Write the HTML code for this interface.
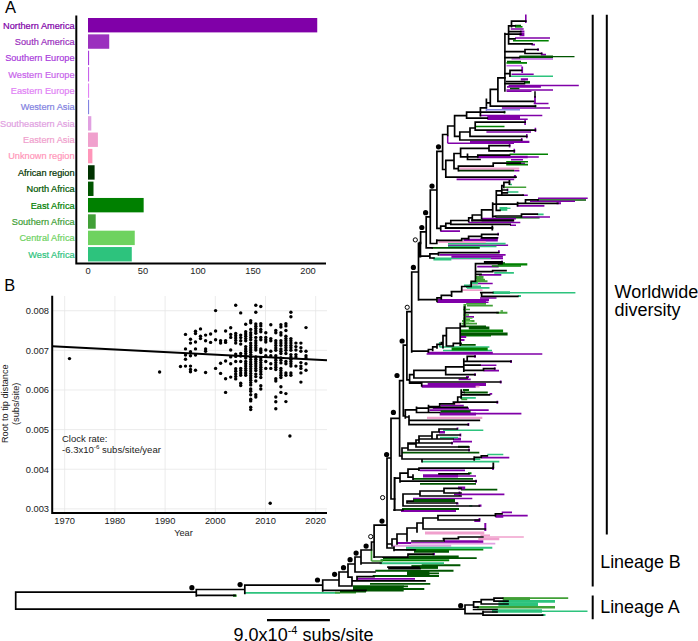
<!DOCTYPE html>
<html><head><meta charset="utf-8"><title>Figure</title>
<style>html,body{margin:0;padding:0;background:#fff}svg{display:block}text{font-family:"Liberation Sans",sans-serif}</style>
</head><body>
<svg width="698" height="641" viewBox="0 0 698 641">
<rect width="698" height="641" fill="#fff"/>
<text x="4.9" y="12.6" font-size="16.5" fill="#000">A</text>
<rect x="88.0" y="18.00" width="229.24" height="14.4" fill="#8000a8"/>
<text x="74.6" y="28.60" font-size="9.2" text-anchor="end" fill="#8000a8" stroke="#8000a8" stroke-width="0.2">Northern America</text>
<rect x="88.0" y="34.36" width="21.23" height="14.4" fill="#9b30be"/>
<text x="74.6" y="44.96" font-size="9.2" text-anchor="end" fill="#9b30be" stroke="#9b30be" stroke-width="0.2">South America</text>
<rect x="88.0" y="50.72" width="1.10" height="14.4" fill="#aa3cdc"/>
<text x="74.6" y="61.32" font-size="9.2" text-anchor="end" fill="#aa3cdc" stroke="#aa3cdc" stroke-width="0.2">Southern Europe</text>
<rect x="88.0" y="67.08" width="1.10" height="14.4" fill="#c864eb"/>
<text x="74.6" y="77.68" font-size="9.2" text-anchor="end" fill="#c864eb" stroke="#c864eb" stroke-width="0.2">Western Europe</text>
<rect x="88.0" y="83.44" width="1.10" height="14.4" fill="#e182f5"/>
<text x="74.6" y="94.04" font-size="9.2" text-anchor="end" fill="#e182f5" stroke="#e182f5" stroke-width="0.2">Eastern Europe</text>
<rect x="88.0" y="99.80" width="1.10" height="14.4" fill="#8282e1"/>
<text x="74.6" y="110.40" font-size="9.2" text-anchor="end" fill="#8282e1" stroke="#8282e1" stroke-width="0.2">Western Asia</text>
<rect x="88.0" y="116.16" width="3.30" height="14.4" fill="#e1a0e1"/>
<text x="74.6" y="126.76" font-size="9.2" text-anchor="end" fill="#e1a0e1" stroke="#e1a0e1" stroke-width="0.2">Southeastern Asia</text>
<rect x="88.0" y="132.52" width="9.90" height="14.4" fill="#f0a0cd"/>
<text x="74.6" y="143.12" font-size="9.2" text-anchor="end" fill="#f0a0cd" stroke="#f0a0cd" stroke-width="0.2">Eastern Asia</text>
<rect x="88.0" y="148.88" width="4.40" height="14.4" fill="#ff96b9"/>
<text x="74.6" y="159.48" font-size="9.2" text-anchor="end" fill="#ff96b9" stroke="#ff96b9" stroke-width="0.2">Unknown region</text>
<rect x="88.0" y="165.24" width="6.60" height="14.4" fill="#003200"/>
<text x="74.6" y="175.84" font-size="9.2" text-anchor="end" fill="#003200" stroke="#003200" stroke-width="0.2">African region</text>
<rect x="88.0" y="181.60" width="5.50" height="14.4" fill="#005500"/>
<text x="74.6" y="192.20" font-size="9.2" text-anchor="end" fill="#005500" stroke="#005500" stroke-width="0.2">North Africa</text>
<rect x="88.0" y="197.96" width="55.66" height="14.4" fill="#008000"/>
<text x="74.6" y="208.56" font-size="9.2" text-anchor="end" fill="#008000" stroke="#008000" stroke-width="0.2">East Africa</text>
<rect x="88.0" y="214.32" width="7.70" height="14.4" fill="#41a037"/>
<text x="74.6" y="224.92" font-size="9.2" text-anchor="end" fill="#41a037" stroke="#41a037" stroke-width="0.2">Southern Africa</text>
<rect x="88.0" y="230.68" width="46.75" height="14.4" fill="#6ed25f"/>
<text x="74.6" y="241.28" font-size="9.2" text-anchor="end" fill="#6ed25f" stroke="#6ed25f" stroke-width="0.2">Central Africa</text>
<rect x="88.0" y="247.04" width="43.78" height="14.4" fill="#2dc37d"/>
<text x="74.6" y="257.64" font-size="9.2" text-anchor="end" fill="#2dc37d" stroke="#2dc37d" stroke-width="0.2">West Africa</text>
<path d="M76.3 15.5V264.5M75.4 263.5H326" stroke="#000" stroke-width="2" fill="none"/>
<text x="88.0" y="274.2" font-size="9.3" text-anchor="middle" fill="#222">0</text>
<text x="143.0" y="274.2" font-size="9.3" text-anchor="middle" fill="#222">50</text>
<text x="198.0" y="274.2" font-size="9.3" text-anchor="middle" fill="#222">100</text>
<text x="253.0" y="274.2" font-size="9.3" text-anchor="middle" fill="#222">150</text>
<text x="308.0" y="274.2" font-size="9.3" text-anchor="middle" fill="#222">200</text>
<text x="4.2" y="291.2" font-size="16.4" fill="#000">B</text>
<path d="M64.7 296V512M114.9 296V512M165.1 296V512M215.3 296V512M265.5 296V512M315.7 296V512M53 508.87H327M53 469.24H327M53 429.61H327M53 389.98H327M53 350.35H327M53 310.72H327" stroke="#e6e6e6" stroke-width="0.8" fill="none"/>
<text x="64.7" y="524.3" font-size="9.3" text-anchor="middle" fill="#222">1970</text>
<text x="114.9" y="524.3" font-size="9.3" text-anchor="middle" fill="#222">1980</text>
<text x="165.1" y="524.3" font-size="9.3" text-anchor="middle" fill="#222">1990</text>
<text x="215.3" y="524.3" font-size="9.3" text-anchor="middle" fill="#222">2000</text>
<text x="265.5" y="524.3" font-size="9.3" text-anchor="middle" fill="#222">2010</text>
<text x="315.7" y="524.3" font-size="9.3" text-anchor="middle" fill="#222">2020</text>
<text x="49" y="512.17" font-size="9.3" text-anchor="end" fill="#222">0.003</text>
<text x="49" y="472.54" font-size="9.3" text-anchor="end" fill="#222">0.004</text>
<text x="49" y="432.91" font-size="9.3" text-anchor="end" fill="#222">0.005</text>
<text x="49" y="393.28" font-size="9.3" text-anchor="end" fill="#222">0.006</text>
<text x="49" y="353.65" font-size="9.3" text-anchor="end" fill="#222">0.007</text>
<text x="49" y="314.02" font-size="9.3" text-anchor="end" fill="#222">0.008</text>
<text x="183.5" y="536.2" font-size="9.2" text-anchor="middle" fill="#222">Year</text>
<text transform="translate(7.6 403.7) rotate(-90)" font-size="9.2" text-anchor="middle" fill="#222">Root to tip distance</text>
<text transform="translate(19 403.8) rotate(-90)" font-size="9.2" text-anchor="middle" fill="#222">(subs/site)</text>
<text x="62" y="442" font-size="9.5" fill="#222">Clock rate:</text>
<text x="62" y="452.8" font-size="9.55" fill="#222">-6.3x10<tspan font-size="6.2" dy="-3.4">-6</tspan><tspan dy="3.4"> subs/site/year</tspan></text>
<g fill="#000"><circle cx="180.5" cy="366.5" r="1.7"/><circle cx="185.5" cy="334.4" r="1.7"/><circle cx="185.5" cy="348.9" r="1.7"/><circle cx="185.5" cy="355.1" r="1.7"/><circle cx="185.5" cy="359.2" r="1.7"/><circle cx="185.5" cy="366.1" r="1.7"/><circle cx="190.5" cy="339.2" r="1.7"/><circle cx="190.5" cy="343.1" r="1.7"/><circle cx="190.5" cy="351.8" r="1.7"/><circle cx="190.5" cy="355.7" r="1.7"/><circle cx="190.5" cy="366.1" r="1.7"/><circle cx="190.5" cy="369.5" r="1.7"/><circle cx="190.5" cy="371.8" r="1.7"/><circle cx="195.5" cy="331.2" r="1.7"/><circle cx="195.5" cy="333.5" r="1.7"/><circle cx="195.5" cy="342.0" r="1.7"/><circle cx="195.5" cy="348.9" r="1.7"/><circle cx="195.5" cy="355.1" r="1.7"/><circle cx="195.5" cy="370.2" r="1.7"/><circle cx="200.5" cy="328.9" r="1.7"/><circle cx="200.5" cy="336.3" r="1.7"/><circle cx="200.5" cy="338.6" r="1.7"/><circle cx="205.6" cy="335.1" r="1.7"/><circle cx="205.6" cy="340.8" r="1.7"/><circle cx="205.6" cy="348.9" r="1.7"/><circle cx="205.6" cy="351.2" r="1.7"/><circle cx="205.6" cy="372.5" r="1.7"/><circle cx="210.6" cy="334.0" r="1.7"/><circle cx="210.6" cy="342.4" r="1.7"/><circle cx="215.6" cy="310.6" r="1.7"/><circle cx="215.6" cy="331.0" r="1.7"/><circle cx="215.6" cy="339.7" r="1.7"/><circle cx="215.6" cy="368.4" r="1.7"/><circle cx="220.6" cy="340.8" r="1.7"/><circle cx="220.6" cy="343.1" r="1.7"/><circle cx="220.6" cy="363.3" r="1.7"/><circle cx="220.6" cy="373.4" r="1.7"/><circle cx="225.6" cy="331.0" r="1.7"/><circle cx="225.6" cy="340.8" r="1.7"/><circle cx="225.6" cy="342.4" r="1.7"/><circle cx="225.6" cy="361.0" r="1.7"/><circle cx="225.6" cy="378.7" r="1.7"/><circle cx="225.6" cy="392.4" r="1.7"/><circle cx="230.7" cy="327.8" r="1.7"/><circle cx="230.7" cy="334.4" r="1.7"/><circle cx="230.7" cy="337.4" r="1.7"/><circle cx="230.7" cy="350.0" r="1.7"/><circle cx="230.7" cy="356.9" r="1.7"/><circle cx="230.7" cy="363.8" r="1.7"/><circle cx="230.7" cy="377.1" r="1.7"/><circle cx="235.7" cy="305.3" r="1.7"/><circle cx="235.7" cy="333.5" r="1.7"/><circle cx="235.7" cy="335.8" r="1.7"/><circle cx="235.7" cy="338.1" r="1.7"/><circle cx="235.7" cy="340.4" r="1.7"/><circle cx="235.7" cy="343.1" r="1.7"/><circle cx="235.7" cy="354.1" r="1.7"/><circle cx="235.7" cy="356.4" r="1.7"/><circle cx="235.7" cy="361.5" r="1.7"/><circle cx="235.7" cy="368.8" r="1.7"/><circle cx="235.7" cy="371.3" r="1.7"/><circle cx="235.7" cy="373.9" r="1.7"/><circle cx="235.7" cy="376.4" r="1.7"/><circle cx="235.7" cy="378.9" r="1.7"/><circle cx="240.7" cy="312.9" r="1.7"/><circle cx="240.7" cy="335.1" r="1.7"/><circle cx="240.7" cy="337.6" r="1.7"/><circle cx="240.7" cy="340.8" r="1.7"/><circle cx="240.7" cy="344.1" r="1.7"/><circle cx="240.7" cy="353.5" r="1.7"/><circle cx="240.7" cy="356.0" r="1.7"/><circle cx="240.7" cy="361.5" r="1.7"/><circle cx="240.7" cy="368.4" r="1.7"/><circle cx="240.7" cy="370.6" r="1.7"/><circle cx="240.7" cy="372.9" r="1.7"/><circle cx="240.7" cy="375.2" r="1.7"/><circle cx="240.7" cy="383.3" r="1.7"/><circle cx="240.7" cy="385.5" r="1.7"/><circle cx="245.7" cy="324.3" r="1.7"/><circle cx="245.7" cy="331.7" r="1.7"/><circle cx="245.7" cy="334.0" r="1.7"/><circle cx="245.7" cy="336.3" r="1.7"/><circle cx="245.7" cy="338.6" r="1.7"/><circle cx="245.7" cy="340.8" r="1.7"/><circle cx="245.7" cy="346.6" r="1.7"/><circle cx="245.7" cy="348.9" r="1.7"/><circle cx="245.7" cy="351.2" r="1.7"/><circle cx="245.7" cy="353.5" r="1.7"/><circle cx="245.7" cy="355.7" r="1.7"/><circle cx="245.7" cy="358.0" r="1.7"/><circle cx="245.7" cy="361.5" r="1.7"/><circle cx="245.7" cy="363.8" r="1.7"/><circle cx="245.7" cy="366.1" r="1.7"/><circle cx="245.7" cy="368.4" r="1.7"/><circle cx="245.7" cy="370.6" r="1.7"/><circle cx="245.7" cy="372.9" r="1.7"/><circle cx="245.7" cy="375.2" r="1.7"/><circle cx="250.7" cy="320.7" r="1.7"/><circle cx="250.7" cy="322.7" r="1.7"/><circle cx="250.7" cy="329.4" r="1.7"/><circle cx="250.7" cy="332.8" r="1.7"/><circle cx="250.7" cy="335.1" r="1.7"/><circle cx="250.7" cy="337.4" r="1.7"/><circle cx="250.7" cy="339.7" r="1.7"/><circle cx="250.7" cy="343.1" r="1.7"/><circle cx="250.7" cy="345.4" r="1.7"/><circle cx="250.7" cy="347.7" r="1.7"/><circle cx="250.7" cy="350.0" r="1.7"/><circle cx="250.7" cy="352.3" r="1.7"/><circle cx="250.7" cy="354.6" r="1.7"/><circle cx="250.7" cy="357.3" r="1.7"/><circle cx="250.7" cy="359.6" r="1.7"/><circle cx="250.7" cy="361.9" r="1.7"/><circle cx="250.7" cy="364.2" r="1.7"/><circle cx="250.7" cy="366.5" r="1.7"/><circle cx="250.7" cy="368.8" r="1.7"/><circle cx="250.7" cy="371.1" r="1.7"/><circle cx="250.7" cy="373.4" r="1.7"/><circle cx="250.7" cy="375.7" r="1.7"/><circle cx="250.7" cy="378.0" r="1.7"/><circle cx="250.7" cy="380.3" r="1.7"/><circle cx="250.7" cy="382.6" r="1.7"/><circle cx="250.7" cy="384.9" r="1.7"/><circle cx="250.7" cy="389.0" r="1.7"/><circle cx="250.7" cy="391.3" r="1.7"/><circle cx="250.7" cy="394.7" r="1.7"/><circle cx="250.7" cy="399.3" r="1.7"/><circle cx="250.7" cy="400.9" r="1.7"/><circle cx="250.7" cy="407.3" r="1.7"/><circle cx="250.7" cy="409.6" r="1.7"/><circle cx="255.8" cy="305.3" r="1.7"/><circle cx="255.8" cy="312.2" r="1.7"/><circle cx="255.8" cy="323.9" r="1.7"/><circle cx="255.8" cy="326.2" r="1.7"/><circle cx="255.8" cy="328.5" r="1.7"/><circle cx="255.8" cy="331.0" r="1.7"/><circle cx="255.8" cy="333.3" r="1.7"/><circle cx="255.8" cy="337.4" r="1.7"/><circle cx="255.8" cy="340.8" r="1.7"/><circle cx="255.8" cy="343.1" r="1.7"/><circle cx="255.8" cy="345.4" r="1.7"/><circle cx="255.8" cy="347.7" r="1.7"/><circle cx="255.8" cy="350.0" r="1.7"/><circle cx="255.8" cy="356.9" r="1.7"/><circle cx="255.8" cy="359.2" r="1.7"/><circle cx="255.8" cy="361.5" r="1.7"/><circle cx="255.8" cy="363.8" r="1.7"/><circle cx="255.8" cy="366.1" r="1.7"/><circle cx="255.8" cy="368.4" r="1.7"/><circle cx="255.8" cy="370.6" r="1.7"/><circle cx="255.8" cy="374.1" r="1.7"/><circle cx="255.8" cy="376.6" r="1.7"/><circle cx="255.8" cy="381.0" r="1.7"/><circle cx="255.8" cy="394.7" r="1.7"/><circle cx="255.8" cy="397.0" r="1.7"/><circle cx="260.8" cy="306.5" r="1.7"/><circle cx="260.8" cy="323.7" r="1.7"/><circle cx="260.8" cy="325.9" r="1.7"/><circle cx="260.8" cy="329.4" r="1.7"/><circle cx="260.8" cy="331.7" r="1.7"/><circle cx="260.8" cy="337.4" r="1.7"/><circle cx="260.8" cy="339.7" r="1.7"/><circle cx="260.8" cy="348.9" r="1.7"/><circle cx="260.8" cy="350.7" r="1.7"/><circle cx="260.8" cy="352.5" r="1.7"/><circle cx="260.8" cy="358.0" r="1.7"/><circle cx="260.8" cy="360.3" r="1.7"/><circle cx="260.8" cy="362.6" r="1.7"/><circle cx="260.8" cy="364.9" r="1.7"/><circle cx="260.8" cy="367.2" r="1.7"/><circle cx="260.8" cy="369.5" r="1.7"/><circle cx="260.8" cy="371.8" r="1.7"/><circle cx="260.8" cy="374.3" r="1.7"/><circle cx="260.8" cy="377.5" r="1.7"/><circle cx="260.8" cy="385.8" r="1.7"/><circle cx="260.8" cy="389.0" r="1.7"/><circle cx="265.8" cy="332.8" r="1.7"/><circle cx="265.8" cy="337.4" r="1.7"/><circle cx="265.8" cy="339.7" r="1.7"/><circle cx="265.8" cy="342.0" r="1.7"/><circle cx="265.8" cy="350.0" r="1.7"/><circle cx="265.8" cy="355.7" r="1.7"/><circle cx="265.8" cy="361.5" r="1.7"/><circle cx="265.8" cy="368.4" r="1.7"/><circle cx="270.8" cy="324.8" r="1.7"/><circle cx="270.8" cy="338.6" r="1.7"/><circle cx="270.8" cy="340.8" r="1.7"/><circle cx="270.8" cy="351.2" r="1.7"/><circle cx="270.8" cy="355.7" r="1.7"/><circle cx="270.8" cy="363.8" r="1.7"/><circle cx="270.8" cy="368.4" r="1.7"/><circle cx="275.8" cy="330.5" r="1.7"/><circle cx="275.8" cy="332.8" r="1.7"/><circle cx="275.8" cy="340.8" r="1.7"/><circle cx="275.8" cy="343.1" r="1.7"/><circle cx="275.8" cy="345.4" r="1.7"/><circle cx="275.8" cy="348.0" r="1.7"/><circle cx="275.8" cy="350.2" r="1.7"/><circle cx="275.8" cy="355.7" r="1.7"/><circle cx="275.8" cy="358.0" r="1.7"/><circle cx="275.8" cy="360.3" r="1.7"/><circle cx="275.8" cy="362.6" r="1.7"/><circle cx="275.8" cy="364.9" r="1.7"/><circle cx="275.8" cy="367.2" r="1.7"/><circle cx="275.8" cy="369.5" r="1.7"/><circle cx="275.8" cy="378.7" r="1.7"/><circle cx="275.8" cy="381.0" r="1.7"/><circle cx="275.8" cy="397.0" r="1.7"/><circle cx="275.8" cy="401.8" r="1.7"/><circle cx="275.8" cy="408.7" r="1.7"/><circle cx="280.9" cy="324.8" r="1.7"/><circle cx="280.9" cy="327.1" r="1.7"/><circle cx="280.9" cy="332.8" r="1.7"/><circle cx="280.9" cy="335.1" r="1.7"/><circle cx="280.9" cy="340.8" r="1.7"/><circle cx="280.9" cy="343.1" r="1.7"/><circle cx="280.9" cy="345.4" r="1.7"/><circle cx="280.9" cy="348.9" r="1.7"/><circle cx="280.9" cy="351.2" r="1.7"/><circle cx="280.9" cy="353.5" r="1.7"/><circle cx="280.9" cy="358.0" r="1.7"/><circle cx="280.9" cy="360.3" r="1.7"/><circle cx="280.9" cy="362.9" r="1.7"/><circle cx="280.9" cy="368.4" r="1.7"/><circle cx="280.9" cy="370.6" r="1.7"/><circle cx="280.9" cy="372.9" r="1.7"/><circle cx="280.9" cy="375.2" r="1.7"/><circle cx="280.9" cy="377.5" r="1.7"/><circle cx="280.9" cy="386.7" r="1.7"/><circle cx="280.9" cy="392.4" r="1.7"/><circle cx="285.9" cy="323.7" r="1.7"/><circle cx="285.9" cy="325.9" r="1.7"/><circle cx="285.9" cy="330.5" r="1.7"/><circle cx="285.9" cy="336.3" r="1.7"/><circle cx="285.9" cy="338.6" r="1.7"/><circle cx="285.9" cy="340.8" r="1.7"/><circle cx="285.9" cy="343.1" r="1.7"/><circle cx="285.9" cy="345.4" r="1.7"/><circle cx="285.9" cy="347.7" r="1.7"/><circle cx="285.9" cy="350.2" r="1.7"/><circle cx="285.9" cy="353.5" r="1.7"/><circle cx="285.9" cy="361.5" r="1.7"/><circle cx="285.9" cy="363.8" r="1.7"/><circle cx="285.9" cy="372.9" r="1.7"/><circle cx="285.9" cy="375.2" r="1.7"/><circle cx="285.9" cy="393.6" r="1.7"/><circle cx="285.9" cy="401.6" r="1.7"/><circle cx="290.9" cy="312.2" r="1.7"/><circle cx="290.9" cy="316.8" r="1.7"/><circle cx="290.9" cy="338.6" r="1.7"/><circle cx="290.9" cy="340.8" r="1.7"/><circle cx="290.9" cy="343.1" r="1.7"/><circle cx="290.9" cy="345.4" r="1.7"/><circle cx="290.9" cy="347.7" r="1.7"/><circle cx="290.9" cy="350.2" r="1.7"/><circle cx="290.9" cy="354.6" r="1.7"/><circle cx="290.9" cy="356.9" r="1.7"/><circle cx="290.9" cy="359.2" r="1.7"/><circle cx="290.9" cy="361.5" r="1.7"/><circle cx="290.9" cy="363.8" r="1.7"/><circle cx="290.9" cy="366.1" r="1.7"/><circle cx="290.9" cy="372.9" r="1.7"/><circle cx="290.9" cy="375.2" r="1.7"/><circle cx="295.9" cy="343.1" r="1.7"/><circle cx="295.9" cy="346.6" r="1.7"/><circle cx="295.9" cy="350.0" r="1.7"/><circle cx="295.9" cy="354.6" r="1.7"/><circle cx="295.9" cy="356.9" r="1.7"/><circle cx="295.9" cy="366.1" r="1.7"/><circle cx="300.9" cy="343.1" r="1.7"/><circle cx="300.9" cy="347.7" r="1.7"/><circle cx="300.9" cy="351.2" r="1.7"/><circle cx="300.9" cy="362.6" r="1.7"/><circle cx="300.9" cy="366.1" r="1.7"/><circle cx="300.9" cy="368.4" r="1.7"/><circle cx="300.9" cy="372.9" r="1.7"/><circle cx="300.9" cy="382.1" r="1.7"/><circle cx="306.0" cy="327.6" r="1.7"/><circle cx="306.0" cy="351.2" r="1.7"/><circle cx="306.0" cy="355.7" r="1.7"/><circle cx="306.0" cy="358.0" r="1.7"/><circle cx="306.0" cy="363.8" r="1.7"/><circle cx="306.0" cy="370.2" r="1.7"/><circle cx="69.5" cy="358.6" r="1.7"/><circle cx="159.6" cy="372.0" r="1.7"/><circle cx="289.9" cy="436.0" r="1.7"/><circle cx="270.2" cy="503.2" r="1.7"/></g>
<path d="M52 346.3L327 360.3" stroke="#000" stroke-width="2" fill="none"/>
<path d="M52.2 295.7V514M51.2 513H327" stroke="#000" stroke-width="2" fill="none"/>
<path d="M592.7 14.8V586.6M606.8 14.8V534.4M592.7 595.5V619.2" stroke="#000" stroke-width="2" fill="none"/>
<text x="614.5" y="297.6" font-size="18" fill="#000">Worldwide</text>
<text x="614.5" y="315.5" font-size="18" fill="#000">diversity</text>
<text x="600.2" y="568" font-size="17.9" fill="#000">Lineage B</text>
<text x="600.2" y="613" font-size="17.9" fill="#000">Lineage A</text>
<path d="M267 620.2H329.9" stroke="#000" stroke-width="2.3" fill="none"/>
<text x="233.6" y="640.7" font-size="18" fill="#000">9.0x10<tspan font-size="11" dy="-6.6">-4</tspan><tspan dy="6.6"> subs/site</tspan></text>
<path d="M525.8 14.4V23M515 38H550M538 48.3V51M541.6 52.3V55M511.5 74.3H533.7M507 86.9H540.9M506.5 90H553M501.9 108H550M525.1 120V125M535.4 127.8V132M486.4 132H531M526.8 134V138.3M521.7 138V142M447.7 143.3H514M509.6 143.5V147.5M514.3 148.7V153M511 159.8H523M510.3 163.4H525M514.2 170.7H519.4M507.5 188.5V191.5M522 195.2H527.8M538 198.3H587.7M498.1 232.8V235.5M496 237.8H498.5M481 238.6H498M448 245.3H508.1M502 260.6V263M477.2 266.6H498.7M477.2 283.5H492.7M480 365.2H496.4M476 413.6H521.4M510 225.2H516" stroke="#8000a8" stroke-width="1.6" fill="none"/>
<path d="M515 25.7H521M537 200H586M495.5 217.7H539.6M460.5 344.8H475.7M461 489.7H497.3" stroke="#005500" stroke-width="1.7" fill="none"/>
<path d="M515 26.8H522.5" stroke="#008000" stroke-width="1.7" fill="none"/>
<path d="M510.8 29H523.7M531.5 44.6H535M541 54.6H546M456.6 179.3H514.2M516.8 205.8H544.4M481.6 218.6H516M439.4 254.8H505.6M479 274.8H501.3M465.3 316.8H474M427.5 352.6H492.8M426.6 354H542.3M475 355V357.8M494.7 367.3V370M475 373.2V376M429.4 410.2H488.7M453 441.7H472M481.3 457.7H509.3M420 470.3H465M454 494.4H504.4M413 498.5H472.3M501.7 512.3H512M495.4 515.6H527.7M468.4 222.5H520.3M440.2 231.2H460" stroke="#8000a8" stroke-width="1.7" fill="none"/>
<path d="M520 31.6H524.4M556.5 203.2H561M480 239.4H496.5M461 340H464.5M456 503.6H458.5M485.3 523V531M432.5 554H435M432.5 556.6H434.5" stroke="#8000a8" stroke-width="2.0" fill="none"/>
<path d="M519.5 34.5H524.4" stroke="#8000a8" stroke-width="3.5" fill="none"/>
<path d="M513 40.7H548.7M535.4 104.8V107.5M504.5 110.8V113.6M506.2 161.7H528M506.2 164.6H528M461 335.8H491" stroke="#008000" stroke-width="1.6" fill="none"/>
<path d="M519.4 56.7H574.5" stroke="#005500" stroke-width="1.3" fill="none"/>
<path d="M519.4 56.9H553M440.5 411.7H470.6M413 500.5H455" stroke="#005500" stroke-width="2.8" fill="none"/>
<path d="M511.5 59H553" stroke="#c864eb" stroke-width="1.5" fill="none"/>
<path d="M507 61.4H521M510 88.6H519.4" stroke="#005500" stroke-width="1.5" fill="none"/>
<path d="M506.5 62.9H527" stroke="#008000" stroke-width="1.8" fill="none"/>
<path d="M506.5 65.7H522" stroke="#c864eb" stroke-width="1.6" fill="none"/>
<path d="M522.2 66.5V73M535 96V103M498.9 250.2V253M511 360V363M483.5 370.6H499M458.6 379.4H470.7M466 377H469M500.7 380.5V383.5M489.5 393.8H492.2M497.3 400.7V403.7M440.5 405.7H463.8M468.4 423V426M457.5 427.5V430.5M460.4 433.5V436.5M452 441.8V444.6M469 448.5V451.5M493 466.5V470M476 479.8V482.8M459.5 491.5V496M401 511H456M495.4 516.8H503.3M479.5 518V520M444 541.2H483.3M397 543H483.3M357 578.8H415" stroke="#8000a8" stroke-width="1.8" fill="none"/>
<path d="M510.8 76.2H553M509.4 184.5H512M448 246.6H496.5M433.4 259.7H451.4M542 611.3H587.5" stroke="#2dc37d" stroke-width="1.5" fill="none"/>
<path d="M520.8 79.3H528M470 141.8H529.4M515 175V178.3M481.6 220.4H513.6M480 299.8H489M478.5 505.6H481.5" stroke="#8000a8" stroke-width="2.2" fill="none"/>
<path d="M524 82.3H530" stroke="#005500" stroke-width="2.6" fill="none"/>
<path d="M508.6 85.5H578.8M506.5 91.3H531.5M533.7 103.5H548.5M479.8 115.6H542.3M487.3 119.2H527.7M447.7 135.5V143.3M522.3 216.9H550M480 298H496.5M437 302.2H488.5M432.8 408.2H469M458 476H476" stroke="#8000a8" stroke-width="1.5" fill="none"/>
<path d="M487 109.8H520M486.4 106V111" stroke="#8282e1" stroke-width="1.5" fill="none"/>
<path d="M487.3 117.4H520M427.7 384.5H486M421.7 386.3H475.8" stroke="#8000a8" stroke-width="3.0" fill="none"/>
<path d="M475.2 126.5H504.5M509.6 154.3H548M491.8 265.9H521" stroke="#008000" stroke-width="1.5" fill="none"/>
<path d="M477 157H527.7M461 336.8H466.2M439 432.2H445M474.3 520.6H480.3" stroke="#8000a8" stroke-width="2.6" fill="none"/>
<path d="M527 157H538.8M530 201.2H575M451.4 258.5H503" stroke="#8000a8" stroke-width="1.4" fill="none"/>
<path d="M460 168.7H519.3" stroke="#f0a0cd" stroke-width="2.2" fill="none"/>
<path d="M458.4 170.7H514.2" stroke="#003200" stroke-width="1.8" fill="none"/>
<path d="M504.8 187.3H526.2M500.5 311H503" stroke="#41a037" stroke-width="1.5" fill="none"/>
<path d="M507.3 192H518.4M448 243.6H505.6M432.5 258.2H491M467 287.9H489.5M492.6 292.8H575.4M439.7 342V347M443 350.5H492M443 430.2H483.3M244.8 592.9H340" stroke="#2dc37d" stroke-width="1.6" fill="none"/>
<path d="M499.5 208.9H507.3" stroke="#2dc37d" stroke-width="3.8" fill="none"/>
<path d="M507 208.3H510.5" stroke="#2dc37d" stroke-width="1.3" fill="none"/>
<path d="M537.3 214.3H543.6M460.3 397.9H475.8M469.3 505.8H472.3" stroke="#2dc37d" stroke-width="1.8" fill="none"/>
<path d="M463.5 240.2H497.8M453 439.2H461M458 488H465.2" stroke="#8000a8" stroke-width="2.8" fill="none"/>
<path d="M438.5 241.9H485.8" stroke="#f0a0cd" stroke-width="2.0" fill="none"/>
<path d="M431.6 247.9H479.8M461 326.4H486M462.9 390H469M402 452.7H479.3M403 589H424.3M403 586.3H408" stroke="#005500" stroke-width="1.8" fill="none"/>
<path d="M451.4 256.6H502.9" stroke="#8000a8" stroke-width="2.4" fill="none"/>
<path d="M501 263.2H505M463.8 392.4H487.8M458 446.8H469" stroke="#005500" stroke-width="2.0" fill="none"/>
<path d="M497.8 264.4H527.3M233 595.6H236.6" stroke="#008000" stroke-width="2.4" fill="none"/>
<path d="M494.2 272.9H513.9M439.5 347H489.4M440 437.7H458M487.3 454.5H503.3M473.2 459.2H480.3M422 461.7H499.3" stroke="#2dc37d" stroke-width="1.7" fill="none"/>
<path d="M476.3 279.6H481" stroke="#41a037" stroke-width="5.0" fill="none"/>
<path d="M480 280H485" stroke="#41a037" stroke-width="2.5" fill="none"/>
<path d="M469 284.8H477.5" stroke="#f0a0cd" stroke-width="1.6" fill="none"/>
<path d="M464 285.6H471.2M470 283H478" stroke="#2dc37d" stroke-width="2.4" fill="none"/>
<path d="M461.7 290.2H482.5M475.8 386.6H479.5M453.4 403.5H460.3" stroke="#f0a0cd" stroke-width="1.8" fill="none"/>
<path d="M492.6 292.6H510M502.7 601.3H555" stroke="#2dc37d" stroke-width="2.8" fill="none"/>
<path d="M517.8 296H521M541.5 615H545.5" stroke="#2dc37d" stroke-width="2.2" fill="none"/>
<path d="M437.8 300.6H486M439.7 414H476M423 475.8H458" stroke="#8000a8" stroke-width="3.2" fill="none"/>
<path d="M464.8 304V308M466.2 303.9H486M335 592.6H356M502.7 598.2H568.2M462 321H474.5M461.5 323.6H477" stroke="#41a037" stroke-width="1.8" fill="none"/>
<path d="M467 305.6H492.8M463.5 319.5H470M463 323.3H469M461.2 399.4H467.2M463 309.5H470M463.5 315H469" stroke="#41a037" stroke-width="1.6" fill="none"/>
<path d="M496.3 312.8H507.4M476 281.2H487.5" stroke="#41a037" stroke-width="2.0" fill="none"/>
<path d="M464 321.5H471.5M463 318.3H472.5" stroke="#6ed25f" stroke-width="1.6" fill="none"/>
<path d="M468.8 328.1H489.4M460.2 334H507.6M414 551.3H449" stroke="#005500" stroke-width="3.0" fill="none"/>
<path d="M461 331.1H503.1" stroke="#008000" stroke-width="3.0" fill="none"/>
<path d="M451.6 349H487.7" stroke="#008000" stroke-width="2.8" fill="none"/>
<path d="M427 417.9H482.3M478.3 539H499.3" stroke="#f0a0cd" stroke-width="2.4" fill="none"/>
<path d="M468 473.2H471.5M406 549.5H483.3M380.5 560.2H449.2" stroke="#008000" stroke-width="2.0" fill="none"/>
<path d="M413 478.9H473M420 483.9H476M402 509H459M408.8 556.4H458.7M383 558.1H476.7M421.7 565.3H460.4M375.3 570.8H453.5M372.7 576H439M370 583.9H430.3" stroke="#005500" stroke-width="1.9" fill="none"/>
<path d="M425 533H484.3" stroke="#f0a0cd" stroke-width="3.0" fill="none"/>
<path d="M480.5 535.4H490" stroke="#f0a0cd" stroke-width="1.9" fill="none"/>
<path d="M482.8 537H523.8" stroke="#f0a0cd" stroke-width="1.7" fill="none"/>
<path d="M411 543.6H495.3" stroke="#e1a0e1" stroke-width="1.8" fill="none"/>
<path d="M392 545.8H451.2" stroke="#e1a0e1" stroke-width="1.9" fill="none"/>
<path d="M371.5 549V561M371.5 561H383" stroke="#41a037" stroke-width="1.7" fill="none"/>
<path d="M340 591.8H366M429 573.4H439" stroke="#005500" stroke-width="1.6" fill="none"/>
<path d="M502.7 598.6H530M464.8 304V325.5" stroke="#41a037" stroke-width="2.6" fill="none"/>
<path d="M498.4 604.2H538" stroke="#2dc37d" stroke-width="4.0" fill="none"/>
<path d="M476.9 607.3H555" stroke="#41a037" stroke-width="2.4" fill="none"/>
<path d="M492 611H542" stroke="#2dc37d" stroke-width="3.4" fill="none"/>
<path d="M466 286.8H481" stroke="#2dc37d" stroke-width="2.6" fill="none"/>
<path d="M476 277.4H483.5" stroke="#41a037" stroke-width="3.0" fill="none"/>
<path d="M406 547.8H492.3" stroke="#2dc37d" stroke-width="1.9" fill="none"/>
<path d="M379.6 563.3H444" stroke="#2dc37d" stroke-width="2.0" fill="none"/>
<path d="M411.4 567H438" stroke="#005500" stroke-width="3.8" fill="none"/>
<path d="M407 573H429.5" stroke="#005500" stroke-width="4.6" fill="none"/>
<path d="M353 588.4H403.7" stroke="#005500" stroke-width="6.4" fill="none"/>
<path d="M511.5 21.2H525.8M511.5 21.2V26.6M508.6 25.9H515M508.6 25.9V43.8M508.6 31.6H520.8M505.5 34.2H520.8M508.6 38.8H515M508.6 43.8H532M525 49.5H538M525 49.5V53.5M505 51.7H525M525 53.5H541.6M505 57.6H519.4M510.8 70.3H521.5M510 70.3V76.2M505 73.6H510M506.5 81.5H524.4M505 83.6H524.4M497.9 77.9H504.9M497.9 77.9V101.5M497.9 101.3H533.5M490.4 89.4H497.9M490.3 89.4V106.2M490.3 106.2H535.4M486.4 99.3V106M486.4 102.8H490.3M480.4 107.9H486.4M480.4 107.9V115.6M480.4 112.2H504.5M466.6 112.2H480.4M466.6 112.2V118.2M466.6 118.2H487.3M454.6 115.6H466.6M454.6 115.6V136.3M475.2 122.2H525.1M475.2 122.2V130.2M475.2 130.2H535.4M470 128H475.2M470 128V136.3M459.8 132H470M459.8 132V140M454.6 136.3H459.8M470 136.3H526.8M459.8 140H521.7M447.7 126V135.5M447.7 126H454.6M442.6 134.5H447.7M442.6 134.5V169.5M489 145.7H509.6M489 145.7V150.9M460.6 148.3H489M489 150.9H514.3M460.6 148.3V156.9M477.8 155.2H509.6M467.5 156.9H477.8M467.5 154.3V159.5M460.6 156.9H467.5M467.5 159.5H480M454 153.5H460.6M445.8 160.3H454M436.9 151.3H442.6M436.9 151.3V228.4M442.6 169.5H445.8M445.8 160.3V177.2M454 153.5V168.6M454 168.6H458.4M493.2 163.2H520.3M493.2 163.2V166.2M458.4 166.2H493.2M458.4 166.2V170.7M445.8 177.2H516M503.9 182.3H509.4M503.9 182.3V187.5M501.8 185.7H503.9M501.8 185.7V193.5M501.8 190H507.3M501.8 192.8H507.3M496.3 190.8H501.8M496.3 190.8V210.5M496.3 195.2H523.1M525.5 199.9H538M525.5 199.9V203.4M517.6 203.4H557.8M517.6 202.6V205.7M492.7 204.2H517.6M496.3 210.3H500M492.7 203V216.8M481.6 209.9H492.7M481.6 209.9V218.5M521.5 214.1H537.3M521.5 214.1V216.3M495.5 216H521.5M492.7 216.4H495.5M481.6 234.3H498.1M481.6 234.3V237.8M481.6 237.8H497M430.3 190H436.9M430.3 190V243.5M426.2 216.8H430.3M426.2 216.8V247.8M420.6 231.9H426.2M420.6 231.9V243M468.6 236.4H481.5M468.6 236.4V239M461.7 238.7H468.7M436.8 240.3H461.7M436.8 240V242.5M430.3 243.5H436.8M426.5 247.8H432M438.5 252.6H498.7M438.5 252.6V255M429.9 253.8H438.5M429.9 253.8V258M418.5 256.2H429.9M429.9 258H434M418.5 243.3H420.6M418.5 243.3V300M411.7 272H418.5M411.7 272V312M476.3 263.6H502M484.7 261.9H502M475.5 263.6V281.3M492.6 270.6H506M476.3 271.6H492.6M475.5 274.4H481M471.2 281.3H475.5M471.2 281.3V286.5M461.7 286.5H471.2M461.7 286.5V291.6M451.4 291.6H461.7M480.8 292.7H492.8M481.6 294.2V296.3M481.6 296.3H517.8M451.6 291.6V296.2M441.3 295.3H451.6M441.3 295.3V298.8M437 297.9H441.3M437 297.9V301.3M418.5 299.6H437M406.9 311.6H411.7M406.9 311.6V357M411.7 312V352M403.3 345.2H406.9M403.3 345.2V416M464.5 307V326M464.5 312.6H498M460.2 326.3H465M460.2 323.7V345.2M446.4 328H459.5M446.4 328V346M453.3 343.4H461M453.3 343.4V346M446.4 346H453.3M443 335.7H446.4M443 335.7V347.7M441.3 342.6H443M437 344.3H441.3M437 344.3V348M432.7 346.9H437M432.7 346.9V350.5M428.4 349.5H432.7M428.4 349.5V352M411.7 351.2H428.4M406.9 357V379.8M399.6 380.7H403.3M399.6 380.7V456M467.2 356.3H475M467.2 356.3V361.4M463.8 361.4H511M463.8 359.2V371.2M463.8 365.2H480M483.5 368.6H494.7M483.5 368.6V370.3M463.8 370.3H483.5M445.7 366.9H463.8M445.7 366.9V374.6M445.7 374.6H475M413.9 370.3H445.7M413.9 370.3V378M413.9 378H467.2M409.6 374.6H413.9M409.6 374.6V383.2M406.9 379.8H409.6M409.6 382H500.7M409.6 383.2H421.7M421.7 383.2V386M461.2 392.4H464M461.2 394.8H489.5M461.2 390V398M457.7 397H461.2M457.7 397V402.2M453.4 402.2H497.3M439.7 403.9H454.3M439.7 403.9V407.3M428.5 406.6H439.7M428.5 405.6V410.8M428.5 407.3H467.2M416.5 408.2H428.5M416.5 407.3V412.5M405.3 409.9H416.5M405.3 409.9V418M416.5 412.5H439.7M403.3 416H405.3M391 418.4H399.6M391 418.4V499M405.3 417H409M409 416V424.6M409 420.4H479.3M409 424.6H468.2M439 429H457M439 429V432M432 432H439M437 435H460M437 435V438M432 432V439M419 436H432M419 436V442M420 439H453M408 443H452M416 440H419M416 440V447M416 447H469M408 444H416M408 443V450M408 450H469M402 448H408M402 448V459M399.6 456H402M402 459H473.2M481.3 455.8H487.3M481.3 455.8V457.5M474.2 457.3H481.3M474.2 457V460M422 459V461.7M419 468.2H493.3M419 468.2V470.2M408 469.2H419M408 469.2V477.2M400 473.2H408M400 473.2V482M439 473.8H469M408 477.2H413M413 475.2V479.2M400 481.2H476M395 478.2H400M387 458V548M387 458H391M391 499H394.6M394 510H403M444 488.4H461M444 488.4V493M420 491H444M444 493H461M420 491V496M403 494H420M420 496H461M403 494V506M407 501.2H413M407 501.2V503M407 503H457M403 506H479.3M495.4 513.8H502M495.4 513.8V516M437.9 515.5H495.4M438 516V520M438 520H479.3M423 518H438M423 518V529M423 529H485.3M417 523H423M417 523V532M407 528H417M407 528V541M458.4 537H482.8M443.4 538.6H458.4M444 539V541M412 541H444M397 534H407M397 534V544M392 539H397M392 539V546M387 544H392M387 548H394M394 547V550.5M394 549.8H415M408 554.2H433.2M383 557.2H408M408 554.2V557.2M388 567.2H419M374.1 525.2H387M374.1 525.2V557.2M371.5 542H374.1M371.5 542V549M361 550H371.5M361 550V564M355 557H361M355 557V572M348 564H355M348 564V577.2M339 572H348M339 572V586M322.7 580H339M339 586H352M352 577.2V586M348 577.2H352M361 563H381M355 572H375M357 576.7H374M357 576.7V580.8M353 580.8H425M352 580.8H357M374 557H407M15.7 592.2V609.1M15.7 592.2H196.3M15.7 609.1H465M196.3 589.5V596M196.3 589.5H244.8M196.3 595.4H235M244.8 585.1V593.4M244.8 585.1H322.7M322.7 580V590.8M322.7 590.3H366M465 605V613.7M465 605H473.6M473.6 601.9V607.2M473.6 601.9H481.2M481.2 599.7V604M481.2 599.7H494M494 598.2V601.2M494 598.2H502.7M494 601.2H508M481.2 604H508M473.6 607.2H478M473.6 609.5H497M465 613.7H483M483 611.5V615.2M483 612H497M483 615.2H542.6M389 568.7H420M436.9 228.4H440.7M440.7 226.2V230M440.7 226.2H445.8M445.8 223.3V228M445.8 223.3H450.8M450.8 220.5V224.3M450.8 220.5H468.7M468.7 217.9V221.5M468.7 217.9H472.3M472.3 215V220.5M472.3 215H481.6M450.8 224.3H510.2" stroke="#000000" stroke-width="1.7" fill="none" stroke-linecap="square"/>
<path d="M504.9 33.5V91" stroke="#000000" stroke-width="1.6" fill="none" stroke-linecap="square"/>
<path d="M535 92V97" stroke="#000000" stroke-width="1.5" fill="none" stroke-linecap="square"/>
<path d="M509.4 181V184M493.3 463.5V467M492.3 226.4V229.6" stroke="#000000" stroke-width="1.8" fill="none" stroke-linecap="square"/>
<path d="M420 243V256.2" stroke="#000000" stroke-width="2.6" fill="none" stroke-linecap="square"/>
<path d="M394.6 478V510M445.8 227.9H492.3" stroke="#000000" stroke-width="2.0" fill="none" stroke-linecap="square"/>
<path d="M472.3 220.4H513.1" stroke="#000000" stroke-width="2.2" fill="none" stroke-linecap="square"/>
<circle cx="438.5" cy="146.8" r="2.6" fill="#000"/>
<circle cx="432.0" cy="186.1" r="2.6" fill="#000"/>
<circle cx="425.6" cy="212.7" r="2.6" fill="#000"/>
<circle cx="421.8" cy="227.5" r="2.6" fill="#000"/>
<circle cx="415.3" cy="239.9" r="2.1" fill="#fff" stroke="#000" stroke-width="1"/>
<circle cx="413.4" cy="267.4" r="2.6" fill="#000"/>
<circle cx="407.2" cy="307.3" r="2.1" fill="#fff" stroke="#000" stroke-width="1"/>
<circle cx="402.1" cy="341.0" r="2.6" fill="#000"/>
<circle cx="397.0" cy="375.5" r="2.6" fill="#000"/>
<circle cx="393.4" cy="412.4" r="2.6" fill="#000"/>
<circle cx="386.6" cy="454.5" r="2.6" fill="#000"/>
<circle cx="382.6" cy="497.6" r="2.1" fill="#fff" stroke="#000" stroke-width="1"/>
<circle cx="382.0" cy="521.1" r="2.6" fill="#000"/>
<circle cx="370.7" cy="536.6" r="2.1" fill="#fff" stroke="#000" stroke-width="1"/>
<circle cx="366.1" cy="546.1" r="2.6" fill="#000"/>
<circle cx="356.1" cy="553.1" r="2.6" fill="#000"/>
<circle cx="350.1" cy="559.7" r="2.6" fill="#000"/>
<circle cx="343.5" cy="567.7" r="2.6" fill="#000"/>
<circle cx="334.6" cy="574.3" r="2.6" fill="#000"/>
<circle cx="317.5" cy="580.0" r="2.6" fill="#000"/>
<circle cx="240.1" cy="584.6" r="2.6" fill="#000"/>
<circle cx="191.9" cy="587.7" r="2.6" fill="#000"/>
<circle cx="460.7" cy="605.7" r="2.6" fill="#000"/>
</svg></body></html>
